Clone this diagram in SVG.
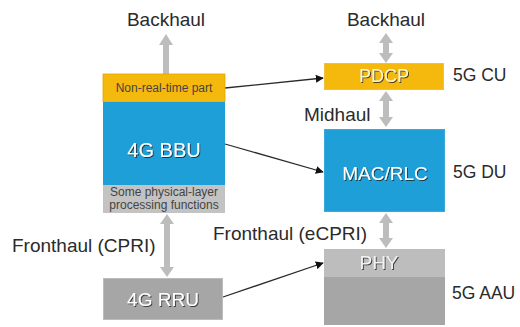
<svg xmlns="http://www.w3.org/2000/svg" width="520" height="327" viewBox="0 0 520 327">
<defs>
<style>
.lbl{font-family:"Liberation Sans",Arial,sans-serif;font-size:19px;fill:#2b2b2b}
.side{font-family:"Liberation Sans",Arial,sans-serif;font-size:17.5px;fill:#2b2b2b}
.box{font-family:"Liberation Sans",Arial,sans-serif;font-size:19px;fill:#fff;text-anchor:middle;filter:url(#sh)}
.small{font-family:"Liberation Sans",Arial,sans-serif;font-size:12px;fill:#444;text-anchor:middle}
.ga{fill:#bdbdbd}
.ln{stroke:#2a2a2a;stroke-width:1.3;fill:none;marker-end:url(#ah)}
</style>
<filter id="sh" x="-20%" y="-30%" width="140%" height="160%">
<feDropShadow dx="1" dy="1" stdDeviation="0.6" flood-color="#222" flood-opacity="0.8"/>
</filter>
<marker id="ah" viewBox="0 0 10 10" refX="9" refY="5" markerWidth="8" markerHeight="8" markerUnits="userSpaceOnUse" orient="auto">
<path d="M0,0 L10,5 L0,10 z" fill="#111"/>
</marker>
</defs>
<rect width="520" height="327" fill="#fff"/>

<g id="connectors">
<polygon class="ga" points="166,34 173,45 169,45 169,74 163,74 163,45 159,45"/>
<polygon class="ga" points="386,33 393,43 389,43 389,53 393,53 386,63 379,53 383,53 383,43 379,43"/>
<polygon class="ga" points="386,91 393,101 389,101 389,117 393,117 386,127 379,117 383,117 383,101 379,101"/>
<polygon class="ga" points="386,213 393,223 389,223 389,238 393,238 386,248 379,238 383,238 383,223 379,223"/>
<polygon class="ga" points="167,214 174,224 170,224 170,267 174,267 167,277 160,267 164,267 164,224 160,224"/>
<line class="ln" x1="225" y1="88" x2="323" y2="78"/>
<line class="ln" x1="225" y1="144" x2="323" y2="172"/>
<line class="ln" x1="223" y1="297" x2="323" y2="263"/>
</g>

<g id="label-backhaul-left"><text class="lbl" x="166" y="26" text-anchor="middle">Backhaul</text></g>
<g id="label-backhaul-right"><text class="lbl" x="386" y="26" text-anchor="middle">Backhaul</text></g>
<g id="label-midhaul"><text class="lbl" x="304" y="121">Midhaul</text></g>
<g id="label-fronthaul-cpri"><text class="lbl" x="12" y="252">Fronthaul (CPRI)</text></g>
<g id="label-fronthaul-ecpri"><text class="lbl" x="213" y="240">Fronthaul (eCPRI)</text></g>
<g id="label-5gcu"><text class="side" x="453" y="81">5G CU</text></g>
<g id="label-5gdu"><text class="side" x="453" y="178">5G DU</text></g>
<g id="label-5gaau"><text class="side" x="452" y="299">5G AAU</text></g>

<g id="bbu4g">
<rect x="103" y="74" width="122" height="28" fill="#f5b80d" stroke="#e3a800" stroke-width="0.8"/>
<text class="small" x="164" y="92">Non-real-time part</text>
<rect x="103" y="102" width="122" height="83" fill="#1f9fd7"/>
<text class="box" x="164" y="157" style="font-size:20px">4G BBU</text>
<rect x="103" y="185" width="122" height="28" fill="#c3c3c3"/>
<text class="small" x="164" y="196">Some physical-layer</text>
<text class="small" x="164" y="209">processing functions</text>
</g>

<g id="rru4g">
<rect x="103.5" y="278.5" width="119" height="41" fill="#a6a6a6" stroke="#bcbcbc" stroke-width="1"/>
<text class="box" x="163" y="306">4G RRU</text>
</g>

<g id="pdcp">
<rect x="324.5" y="63.5" width="119" height="26" fill="#f5b80d" stroke="#f0c040" stroke-width="1"/>
<text class="box" x="384" y="82" style="font-size:18px;fill:#fff6cc">PDCP</text>
</g>

<g id="macrlc">
<rect x="324.5" y="129.5" width="120" height="82" fill="#1f9fd7" stroke="#3aa8d8" stroke-width="1"/>
<text class="box" x="385" y="180">MAC/RLC</text>
</g>

<g id="aau5g">
<rect x="324" y="249" width="121" height="28" fill="#bdbdbd"/>
<text class="box" x="379" y="269" style="fill:#f2f2f2">PHY</text>
<rect x="324" y="277" width="121" height="48" fill="#a6a6a6"/>
</g>
</svg>
